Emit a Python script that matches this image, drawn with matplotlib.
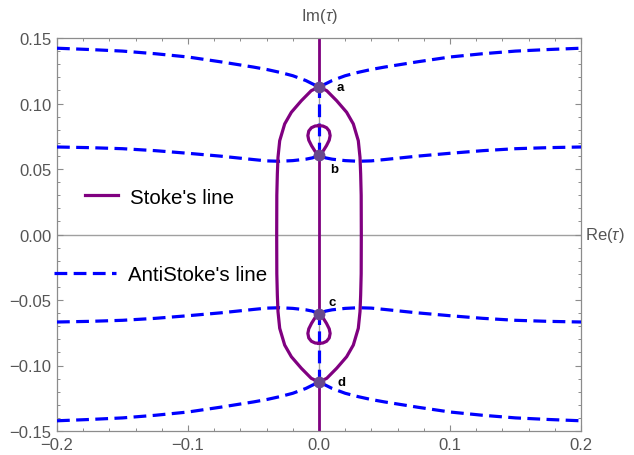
import numpy as np
import matplotlib.pyplot as plt
from matplotlib.lines import Line2D

# --- data (curves are symmetric, only half/quarter given) ---
# upper AntiStoke's curve through a (right half)
anti_top_x = [0.0, 0.005, 0.01, 0.02, 0.03, 0.04, 0.05, 0.075, 0.1, 0.125, 0.15, 0.175, 0.2]
anti_top_y = [0.1126, 0.1150, 0.1175, 0.1212, 0.1238, 0.1260, 0.1278, 0.1318, 0.1355, 0.1380, 0.1400, 0.1412, 0.1422]

# inner AntiStoke's curve through b (right half)
anti_mid_x = [0.0, 0.005, 0.01, 0.02, 0.03, 0.04, 0.05, 0.075, 0.1, 0.125, 0.15, 0.175, 0.2]
anti_mid_y = [0.0607, 0.0585, 0.0575, 0.0564, 0.0559, 0.0562, 0.0572, 0.0598, 0.0620, 0.0640, 0.0655, 0.0663, 0.0668]

# outer Stoke's loop, upper right quarter (from a down to the real axis)
loop_x = [0.0, 0.0059, 0.0135, 0.0211, 0.0262, 0.0300, 0.0313, 0.0318, 0.0322, 0.0323]
loop_y = [0.1126, 0.1098, 0.1021, 0.0933, 0.0844, 0.0716, 0.0589, 0.0462, 0.030, 0.0]

# small Stoke's loop on top of b (right half)
small_x = [0.0, 0.003, 0.0057, 0.0078, 0.0085, 0.0078, 0.0058, 0.003, 0.0]
small_y = [0.0607, 0.0635, 0.0678, 0.0720, 0.0755, 0.0790, 0.0815, 0.0828, 0.0831]

# turning points
pt_names = ['a', 'b', 'c', 'd']
pt_y = [0.1126, 0.0607, -0.0607, -0.1126]

xticks = [-0.2, -0.1, 0.0, 0.1, 0.2]
xtick_labels = ['\u22120.2', '\u22120.1', '0.0', '0.1', '0.2']
yticks = [-0.15, -0.10, -0.05, 0.0, 0.05, 0.10, 0.15]
ytick_labels = ['\u22120.15', '\u22120.10', '\u22120.05', '0.00', '0.05', '0.10', '0.15']

plt.rcParams['font.family'] = ['Liberation Sans', 'DejaVu Sans']
plt.rcParams['mathtext.fontset'] = 'custom'
plt.rcParams['mathtext.rm'] = 'Liberation Sans'
plt.rcParams['mathtext.it'] = 'Liberation Sans:italic'

PURPLE = '#800080'
BLUE = '#0000ff'
GREY = '#8c8c8c'
LW = 2.3
DASH = (4, 2)


def mirror_x(x, y):
    x = np.asarray(x); y = np.asarray(y)
    return np.concatenate([-x[::-1], x[1:]]), np.concatenate([y[::-1], y[1:]])


fig = plt.figure(figsize=(6.34, 4.56), dpi=100)
ax = fig.add_axes([57 / 634, 1 - 432 / 456, 524 / 634, 393 / 456])

# coordinate axes
ax.axhline(0, color='#a0a0a0', lw=1.0, zorder=1)
ax.axvline(0, color='#a0a0a0', lw=1.0, zorder=1)

# vertical Stoke's line on the imaginary axis
ax.plot([0, 0], [pt_y[0], 0.15], color=PURPLE, lw=2.0, zorder=2)
ax.plot([0, 0], [pt_y[2], pt_y[1]], color=PURPLE, lw=2.0, zorder=2)
ax.plot([0, 0], [-0.15, pt_y[3]], color=PURPLE, lw=2.0, zorder=2)

# AntiStoke's lines
for xs, ys in [(anti_top_x, anti_top_y), (anti_mid_x, anti_mid_y)]:
    fx, fy = mirror_x(xs, ys)
    ax.plot(fx, fy, color=BLUE, lw=LW, dashes=DASH, zorder=3)
    ax.plot(fx, -fy, color=BLUE, lw=LW, dashes=DASH, zorder=3)
ax.plot([0, 0], [pt_y[1], pt_y[0]], color=BLUE, lw=LW, dashes=DASH, zorder=3)
ax.plot([0, 0], [pt_y[3], pt_y[2]], color=BLUE, lw=LW, dashes=DASH, zorder=3)

# outer Stoke's loop
lx = np.asarray(loop_x); ly = np.asarray(loop_y)
ox = np.concatenate([lx, lx[::-1][1:], -lx[1:], -lx[::-1][1:]])
oy = np.concatenate([ly, -ly[::-1][1:], -ly[1:], ly[::-1][1:]])
ax.plot(ox, oy, color=PURPLE, lw=LW, zorder=4, solid_joinstyle='round')

# small loops at b and c
sx, sy = mirror_x(small_x, small_y)
ax.plot(sx, sy, color=PURPLE, lw=LW, zorder=4)
ax.plot(sx, -sy, color=PURPLE, lw=LW, zorder=4)

# turning points
ax.plot(np.zeros(len(pt_y)), pt_y, 'o', color='#6a4a8c', ms=8.5, mec='none', zorder=6)
offsets = [(13, 0), (8, -10), (7, 9), (13, 0)]
for name, y, off in zip(pt_names, pt_y, offsets):
    ax.annotate(name, (0, y), xytext=off, textcoords='offset points',
                ha='left', va='center', fontsize=9.5, fontweight='bold', zorder=7)

ax.set_xlim(-0.2, 0.2)
ax.set_ylim(-0.15, 0.15)
ax.set_xticks(xticks)
ax.set_xticklabels(xtick_labels)
ax.set_yticks(yticks)
ax.set_yticklabels(ytick_labels)
ax.set_xticks(np.arange(-0.2, 0.2001, 0.02), minor=True)
ax.set_yticks(np.arange(-0.15, 0.1501, 0.01), minor=True)
ax.tick_params(which='both', direction='in', top=True, right=True, color=GREY,
               labelcolor='#555555', labelsize=12, pad=4)
ax.tick_params(which='major', length=4.3, width=0.8)
ax.tick_params(which='minor', length=2.5, width=0.7)
for s in ax.spines.values():
    s.set_color(GREY)
    s.set_linewidth(0.9)

ax.annotate('Im($\\tau$)', xy=(0.5, 1), xycoords='axes fraction', xytext=(0, 16),
            textcoords='offset points', ha='center', va='center', fontsize=12, color='#555555')
ax.annotate('Re($\\tau$)', xy=(1, 0.5), xycoords='axes fraction', xytext=(3, 0),
            textcoords='offset points', ha='left', va='center', fontsize=12, color='#555555')

# legends
h1 = Line2D([], [], color=PURPLE, lw=LW)
h2 = Line2D([], [], color=BLUE, lw=LW, dashes=DASH)
leg1 = ax.legend([h1], ["Stoke's line"], loc='center left', bbox_to_anchor=(0.053, 0.595),
                 frameon=False, fontsize=14.8, handlelength=1.6, handletextpad=0.6,
                 borderpad=0, borderaxespad=0)
ax.add_artist(leg1)
ax.legend([h2], ["AntiStoke's line"], loc='center left', bbox_to_anchor=(-0.005, 0.397),
          frameon=False, fontsize=14.8, handlelength=3.0, handletextpad=0.6,
          borderpad=0, borderaxespad=0)

fig.savefig('out.png', dpi=100)
